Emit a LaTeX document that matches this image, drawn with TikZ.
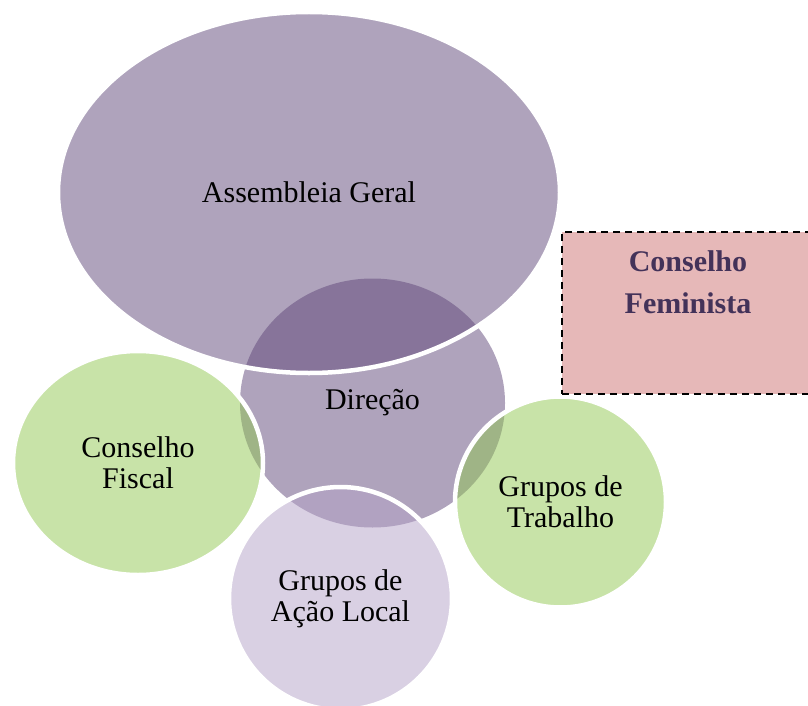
\documentclass[tikz,border=0pt]{standalone}
\usepackage{fontspec}
\setmainfont{Liberation Serif}
\usetikzlibrary{shapes.geometric}
\definecolor{purpleBase}{RGB}{95,71,121}
\definecolor{greenBase}{RGB}{145,199,81}
\definecolor{lilacBase}{RGB}{179,161,199}
\definecolor{pinkFill}{RGB}{230,184,184}
\definecolor{darkPurple}{RGB}{67,50,89}
\tikzset{
  bubble/.style={ellipse, inner sep=0pt, fill opacity=0.5, text opacity=1,
    draw=white, line width=4.5pt, align=center,
    font=\fontsize{30}{31}\selectfont, text=black},
  purplebubble/.style={bubble, fill=purpleBase},
  greenbubble/.style={bubble, fill=greenBase},
  lilacbubble/.style={bubble, fill=lilacBase},
  dashbox/.style={rectangle, inner sep=0pt, fill=pinkFill, draw=black,
    line width=1.8pt, dash pattern=on 7pt off 5pt},
  boxtext/.style={align=center, text=darkPurple,
    font=\fontsize{30}{42}\selectfont\bfseries}
}
\begin{document}
\begin{tikzpicture}[x=1pt,y=-1pt]
\useasboundingbox (0,0) rectangle (808,706);
\clip (0,0) rectangle (808,706);
% Direcao (no visible outline)
\node[purplebubble, draw=none, minimum width=265pt, minimum height=249pt]
  (dir) at (372.5,403) {Direção};
% Assembleia Geral
\node[purplebubble, minimum width=502pt, minimum height=361pt]
  (ag) at (309,192.5) {Assembleia Geral};
% Conselho Fiscal
\node[greenbubble, minimum width=250pt, minimum height=224pt]
  (cf) at (138,463) {Conselho\\Fiscal};
% Grupos de Trabalho
\node[greenbubble, minimum width=211pt, minimum height=211pt]
  (gt) at (560.5,502) {Grupos de\\Trabalho};
% Grupos de Acao Local
\node[lilacbubble, minimum width=223pt, minimum height=223pt]
  (gal) at (340.5,598.5) {Grupos de\\Ação Local};
% Conselho Feminista box
\node[dashbox, minimum width=254pt, minimum height=162pt, anchor=north west]
  (cfembox) at (561,231) {};
\node[boxtext] (cfem) at (688,282) {Conselho\\Feminista};
\end{tikzpicture}
\end{document}
